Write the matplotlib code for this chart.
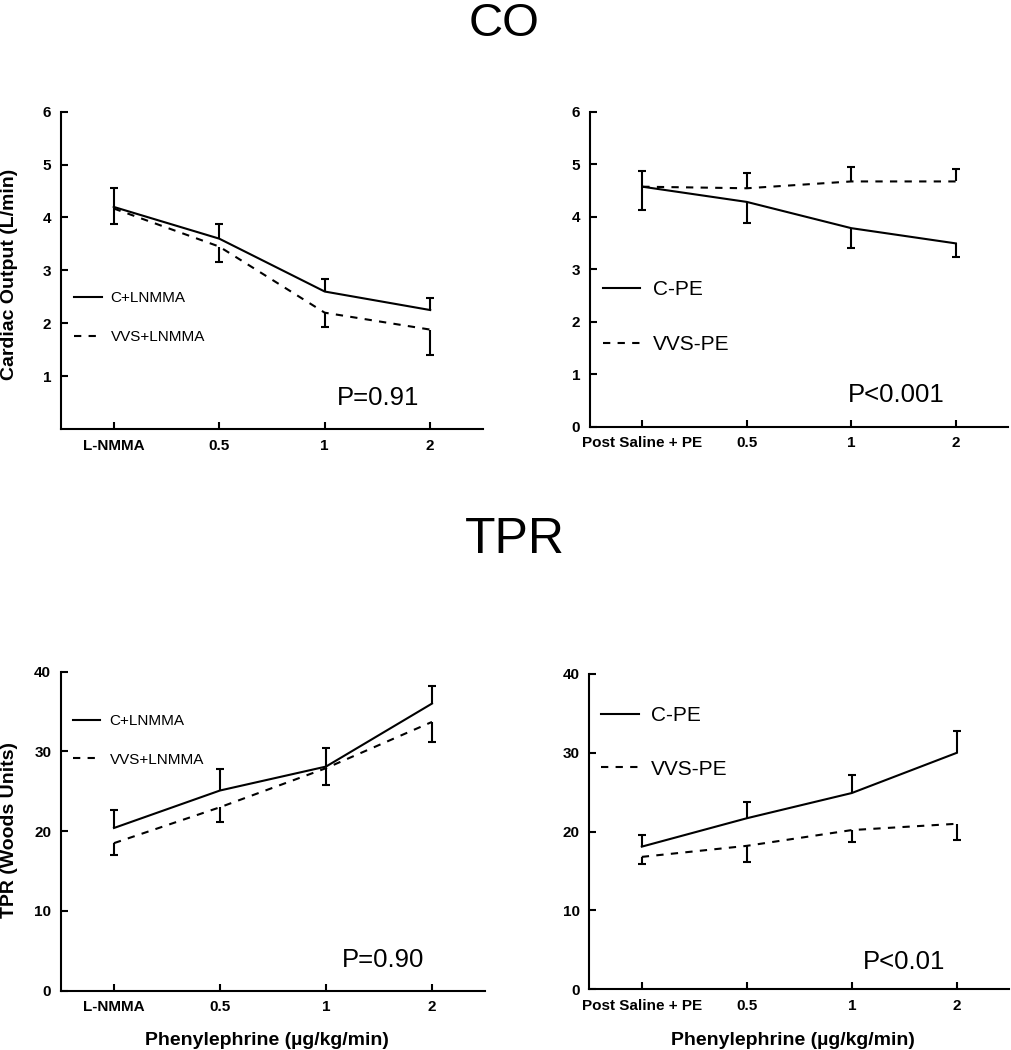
import numpy as np
import matplotlib
matplotlib.use("Agg")
import matplotlib.pyplot as plt

plt.rcParams["font.family"] = ["Liberation Sans", "DejaVu Sans"]

# x categories (dose steps)
doses = [0, 1, 2, 3]
labels_lnmma = ["L-NMMA", "0.5", "1", "2"]
labels_pe = ["Post Saline + PE", "0.5", "1", "2"]

# cardiac output (L/min)
co_c_lnmma = [4.20, 3.60, 2.60, 2.25]
co_c_lnmma_err = [0.35, 0.28, 0.23, 0.23]
co_vvs_lnmma = [4.17, 3.45, 2.20, 1.88]
co_vvs_lnmma_err = [0.30, 0.29, 0.27, 0.48]

co_c_pe = [4.57, 4.28, 3.78, 3.49]
co_c_pe_err = [0.44, 0.41, 0.38, 0.26]
co_vvs_pe = [4.57, 4.54, 4.67, 4.67]
co_vvs_pe_err = [0.29, 0.30, 0.28, 0.23]

# total peripheral resistance (Woods units)
tpr_c_lnmma = [20.4, 25.1, 28.1, 36.0]
tpr_c_lnmma_err = [2.2, 2.7, 2.3, 2.2]
tpr_vvs_lnmma = [18.5, 23.0, 27.9, 33.7]
tpr_vvs_lnmma_err = [1.5, 1.9, 2.1, 2.5]

tpr_c_pe = [18.1, 21.7, 24.9, 30.0]
tpr_c_pe_err = [1.5, 2.0, 2.3, 2.8]
tpr_vvs_pe = [16.8, 18.2, 20.2, 21.0]
tpr_vvs_pe_err = [0.95, 2.0, 1.5, 2.1]

DASH = (0, (3.5, 3.5))


def series(ax, y, err, up, ls, label):
    y = np.array(y)
    err = np.array(err)
    zero = np.zeros_like(err)
    yerr = [zero, err] if up else [err, zero]
    line, caps, bars = ax.errorbar(doses, y, yerr=yerr, color="black", lw=1.5,
                                   linestyle=ls, capsize=3, capthick=1.5,
                                   elinewidth=1.5, label=label)
    # keep only the cap at the far end of the bar
    caps[0 if up else 1].set_visible(False)
    return line


def draw_panel(ax, xlabels, ylim, yticks, c, c_err, c_up, v, v_err, v_up,
               names, leg_size, leg_space, leg_anchor, ptext, ppos):
    h1 = series(ax, c, c_err, c_up, "-", names[0])
    h2 = series(ax, v, v_err, v_up, DASH, names[1])
    ax.set_xlim(-0.5, 3.5)
    ax.set_ylim(*ylim)
    ax.set_xticks(doses)
    ax.set_xticklabels(xlabels)
    ax.set_yticks(yticks)
    for s in ["top", "right"]:
        ax.spines[s].set_visible(False)
    for s in ["left", "bottom"]:
        ax.spines[s].set_linewidth(1.5)
    ax.tick_params(direction="in", length=5, width=1.5)
    ax.tick_params(axis="y", pad=7)
    ax.tick_params(axis="x", pad=7)
    for t in ax.get_xticklabels() + ax.get_yticklabels():
        t.set_fontweight("bold")
        t.set_fontsize(11)
    ax.legend(handles=[h1, h2], labels=names, loc="center left",
              bbox_to_anchor=leg_anchor, frameon=False, fontsize=leg_size,
              handlelength=1.8, handletextpad=0.6, borderpad=0,
              borderaxespad=0, labelspacing=leg_space)
    ax.text(ppos[0], ppos[1], ptext, transform=ax.transAxes, fontsize=18.5,
            ha="left", va="center")


fig = plt.figure(figsize=(10.11, 10.50), dpi=100)

ax1 = fig.add_axes([0.0603, 0.5914, 0.4174, 0.3022])
ax2 = fig.add_axes([0.5836, 0.5937, 0.4135, 0.3000])
ax3 = fig.add_axes([0.0603, 0.0565, 0.4194, 0.3038])
ax4 = fig.add_axes([0.5829, 0.0578, 0.4154, 0.3003])

draw_panel(ax1, labels_lnmma, (0, 6), [1, 2, 3, 4, 5, 6],
           co_c_lnmma, co_c_lnmma_err, True, co_vvs_lnmma, co_vvs_lnmma_err, False,
           ["C+LNMMA", "VVS+LNMMA"], 11, 1.6, (0.031, 0.351), "P=0.91", (0.654, 0.098))
draw_panel(ax2, labels_pe, (0, 6), [0, 1, 2, 3, 4, 5, 6],
           co_c_pe, co_c_pe_err, False, co_vvs_pe, co_vvs_pe_err, True,
           ["C-PE", "VVS-PE"], 15, 1.73, (0.030, 0.347), "P<0.001", (0.617, 0.10))
draw_panel(ax3, labels_lnmma, (0, 40), [0, 10, 20, 30, 40],
           tpr_c_lnmma, tpr_c_lnmma_err, True, tpr_vvs_lnmma, tpr_vvs_lnmma_err, False,
           ["C+LNMMA", "VVS+LNMMA"], 11, 1.6, (0.028, 0.784), "P=0.90", (0.662, 0.096))
draw_panel(ax4, labels_pe, (0, 40), [0, 10, 20, 30, 40],
           tpr_c_pe, tpr_c_pe_err, True, tpr_vvs_pe, tpr_vvs_pe_err, False,
           ["C-PE", "VVS-PE"], 15, 1.66, (0.028, 0.783), "P<0.01", (0.652, 0.0875))

ax1.set_ylabel("Cardiac Output (L/min)", fontsize=14, fontweight="bold")
ax1.yaxis.set_label_coords(-0.102, 0.488)
ax3.set_ylabel("TPR (Woods Units)", fontsize=14, fontweight="bold")
ax3.yaxis.set_label_coords(-0.102, 0.504)

for ax in (ax3, ax4):
    ax.set_xlabel("Phenylephrine (\u00b5g/kg/min)", fontsize=14, fontweight="bold")
ax3.xaxis.set_label_coords(0.485, -0.128)
ax4.xaxis.set_label_coords(0.485, -0.134)

fig.text(504 / 1011, 1 - 36 / 1050, "CO", fontsize=34, ha="center", va="baseline")
fig.text(515 / 1011, 1 - 553 / 1050, "TPR", fontsize=36, ha="center", va="baseline")

fig.savefig("out.png", dpi=100)
